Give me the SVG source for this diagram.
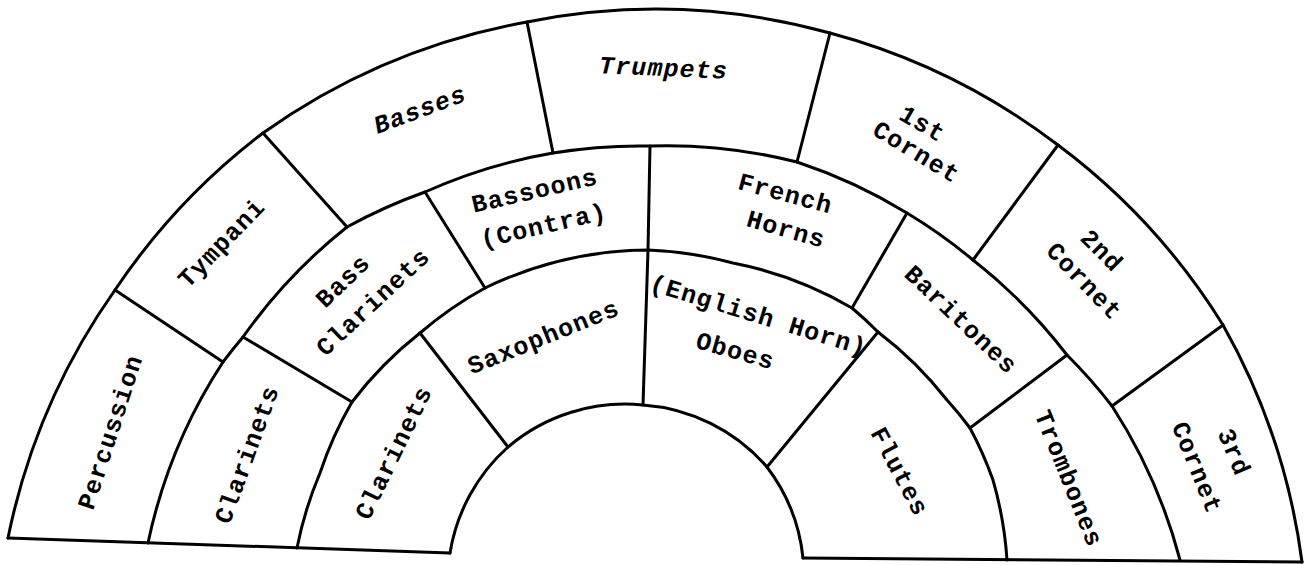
<svg xmlns="http://www.w3.org/2000/svg" width="1304" height="565" viewBox="0 0 1304 565">
<style>
.l{fill:none;stroke:#000;stroke-width:3;stroke-linecap:round;stroke-linejoin:round}
.t{font-family:"Liberation Mono","Courier New",monospace;font-size:25px;font-weight:bold;letter-spacing:1.1px;fill:#000;text-anchor:middle;dominant-baseline:central}
.i{font-style:italic}
</style>
<rect width="1304" height="565" fill="#fff"/>
<g id="outline">
<path class="l" d="M8 538 A656 656 0 0 1 115 290 A656 656 0 0 1 263 133 A656 656 0 0 1 527 22 A656 656 0 0 1 830 33 A656 656 0 0 1 1058 145 A656 656 0 0 1 1223 325 A656 656 0 0 1 1302 562"/>
<path class="l" d="M148 543 A530 530 0 0 1 223 362 A530 530 0 0 1 243 337 A530 530 0 0 1 347 227 A530 530 0 0 1 425 192 A530 530 0 0 1 553 153 A530 530 0 0 1 650 146 A530 530 0 0 1 797 162 A530 530 0 0 1 907 213 A530 530 0 0 1 973 260 A530 530 0 0 1 1067 355 A530 530 0 0 1 1112 406 A530 530 0 0 1 1180 560"/>
<path class="l" d="M297 548 A380 380 0 0 1 320 473 A380 380 0 0 1 352 402 A380 380 0 0 1 420 333 A380 380 0 0 1 485 288 A380 380 0 0 1 648 250 A380 380 0 0 1 733 263 A380 380 0 0 1 852 308 A380 380 0 0 1 878 332 A380 380 0 0 1 947 400 A380 380 0 0 1 970 428 A380 380 0 0 1 993 480 A380 380 0 0 1 1007 560"/>
<path class="l" d="M450 553 A181 181 0 0 1 508 447 A181 181 0 0 1 643 405 A181 181 0 0 1 767 467 A181 181 0 0 1 803 558"/>
<path class="l" d="M8 538 L450 553 M803 558 L1302 562"/>
<path class="l" d="M115 290 L223 362 M263 133 L347 227 M527 22 L553 153 M830 33 L797 162 M1058 145 L973 260 M1223 325 L1112 406"/>
<path class="l" d="M243 337 L352 402 M425 192 L485 288 M907 213 L852 308 M1067 355 L970 428"/>
<path class="l" d="M420 333 L508 447 M650 146 L648 250 L643 405 M878 332 L767 467"/>
</g>
<g id="percussion"><text class="t" transform="translate(111.7,432.5) rotate(-72)">Percussion</text></g>
<g id="tympani"><text class="t" transform="translate(222.5,244) rotate(-46)">Tympani</text></g>
<g id="basses"><text class="t i" transform="translate(420.5,111) rotate(-20.5)">Basses</text></g>
<g id="trumpets"><text class="t i" transform="translate(663.5,69.5) rotate(2.5)">Trumpets</text></g>
<g id="cornet1"><text class="t" transform="translate(921.7,125) rotate(30)">1st</text><text class="t" transform="translate(915.7,153.3) rotate(31)">Cornet</text></g>
<g id="cornet2"><text class="t" transform="translate(1100.7,251.7) rotate(45)">2nd</text><text class="t" transform="translate(1083.3,282.3) rotate(46)">Cornet</text></g>
<g id="cornet3"><text class="t" transform="translate(1232.7,452.7) rotate(67)">3rd</text><text class="t" transform="translate(1195.7,468.3) rotate(68)">Cornet</text></g>
<g id="clarinets-outer"><text class="t" transform="translate(248.3,455) rotate(-70)">Clarinets</text></g>
<g id="bass-clarinets"><text class="t" transform="translate(344,282) rotate(-44)">Bass</text><text class="t" transform="translate(374,303) rotate(-43)">Clarinets</text></g>
<g id="bassoons"><text class="t" transform="translate(535,192) rotate(-13)">Bassoons</text><text class="t" transform="translate(544,227) rotate(-13)">(Contra)</text></g>
<g id="french-horns"><text class="t" transform="translate(785,195) rotate(15)">French</text><text class="t" transform="translate(785.7,230.7) rotate(16)">Horns</text></g>
<g id="baritones"><text class="t" transform="translate(960,320.7) rotate(43.5)">Baritones</text></g>
<g id="trombones"><text class="t" transform="translate(1067.5,479) rotate(68)">Trombones</text></g>
<g id="clarinets-inner"><text class="t" transform="translate(395,453.3) rotate(-64)">Clarinets</text></g>
<g id="saxophones"><text class="t" transform="translate(544,338.3) rotate(-22)">Saxophones</text></g>
<g id="oboes"><text class="t" transform="translate(758.3,316.7) rotate(17)">(English Horn)</text><text class="t" transform="translate(735,352.3) rotate(16)">Oboes</text></g>
<g id="flutes"><text class="t" transform="translate(898.3,472.3) rotate(62)">Flutes</text></g>
</svg>
